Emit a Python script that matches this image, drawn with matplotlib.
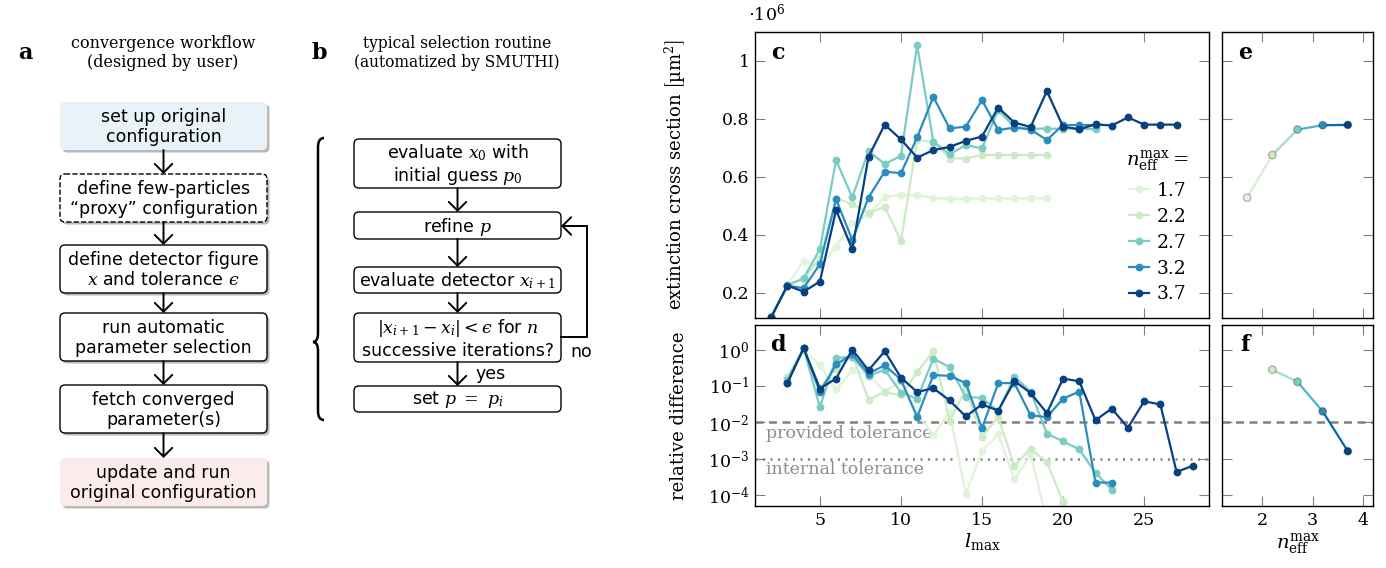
import matplotlib
matplotlib.use('Agg')
import matplotlib.pyplot as plt
import numpy as np
from matplotlib.patches import FancyBboxPatch, FancyArrowPatch, PathPatch
from matplotlib.path import Path
from matplotlib.ticker import NullLocator, FixedLocator

plt.rcParams['font.family'] = 'DejaVu Serif'
plt.rcParams['mathtext.fontset'] = 'dejavuserif'

# --- data -------------------------------------------------------------
n_eff = [1.7, 2.2, 2.7, 3.2, 3.7]
colors = ['#e0f3db', '#ccebc5', '#7bccc4', '#2b8cbe', '#084081']
seg_colors = ['#d6efd0', '#a8ddb5', '#4eb3d3', '#0868ac']

# extinction cross section (x 1e6 um^2), l_max starting at 2
ext_17 = [0.115, 0.226, 0.31, 0.285, 0.359, 0.44, 0.47, 0.529, 0.538, 0.536,
          0.526, 0.524, 0.524, 0.525, 0.525, 0.525, 0.525, 0.525]
ext_22 = [0.115, 0.226, 0.245, 0.32, 0.524, 0.506, 0.474, 0.497, 0.378, 0.727,
          0.72, 0.663, 0.663, 0.675, 0.675, 0.675, 0.675, 0.675]
ext_27 = [0.115, 0.226, 0.249, 0.35, 0.657, 0.529, 0.689, 0.644, 0.672, 1.054,
          0.721, 0.678, 0.709, 0.698, 0.83, 0.772, 0.766, 0.766, 0.766, 0.766,
          0.764]
ext_32 = [0.115, 0.224, 0.215, 0.298, 0.522, 0.382, 0.528, 0.618, 0.612, 0.736,
          0.876, 0.767, 0.773, 0.865, 0.761, 0.77, 0.763, 0.727, 0.779, 0.778,
          0.779]
ext_37 = [0.115, 0.224, 0.203, 0.238, 0.485, 0.349, 0.669, 0.78, 0.729, 0.666,
          0.692, 0.703, 0.724, 0.739, 0.839, 0.787, 0.772, 0.896, 0.773, 0.764,
          0.781, 0.777, 0.805, 0.78, 0.78, 0.78]
ext_all = [ext_17, ext_22, ext_27, ext_32, ext_37]

# relative difference, l_max starting at 3
rel_17 = [0.18, 1.0, 0.37, 0.08, 0.27, 0.2, 0.07, 0.13, 0.017, 0.0044, 0.019,
          1.1e-4, 0.0016, 0.0047, 2.7e-4, 1.3e-3, 2e-5, 7e-5]
rel_22 = [0.18, 1.0, 0.09, 0.3, 0.7, 0.042, 0.068, 0.055, 0.24, 0.9, 0.011,
          0.08, 0.004, 0.014, 6.3e-4, 1.9e-3, 8e-4, 6.5e-5]
rel_27 = [0.15, 1.1, 0.026, 0.59, 0.63, 0.19, 0.28, 0.066, 0.045, 0.56, 0.33,
          0.05, 0.047, 0.02, 0.18, 0.07, 0.0049, 0.003, 0.0018, 4.1e-4, 1.4e-4]
rel_32 = [0.121, 1.1, 0.068, 0.39, 0.74, 0.22, 0.37, 0.15, 0.014, 0.2, 0.19,
          0.12, 0.0069, 0.12, 0.12, 0.0155, 0.014, 0.045, 0.07, 2.2e-4, 2.2e-4]
rel_37 = [0.121, 1.1, 0.085, 0.16, 1.0, 0.27, 0.9, 0.17, 0.068, 0.087, 0.04,
          0.0145, 0.031, 0.021, 0.137, 0.064, 0.018, 0.16, 0.134, 0.0114,
          0.024, 0.0071, 0.038, 0.031, 4.3e-4, 6.4e-4]
rel_all = [rel_17, rel_22, rel_27, rel_32, rel_37]

# converged values per n_eff
final_ext = [0.528, 0.675, 0.763, 0.778, 0.779]
final_rel = [0.28, 0.13, 0.02, 0.0016]   # n_eff = 2.2 ... 3.7

ext_ticks = [0.2, 0.4, 0.6, 0.8, 1.0]
ext_ticklabels = ['0.2', '0.4', '0.6', '0.8', '1']
l_ticks = [5, 10, 15, 20, 25]
n_ticks = [2, 3, 4]
provided_tol = 1e-2
internal_tol = 1e-3

# flowchart texts
wf_boxes = ['set up original\nconfiguration',
            'define few-particles\n\u201cproxy\u201d configuration',
            'define detector figure\n$x$ and tolerance $\u03f5$',
            'run automatic\nparameter selection',
            'fetch converged\nparameter(s)',
            'update and run\noriginal configuration']
sel_boxes = ['evaluate $x_0$ with\ninitial guess $p_0$',
             'refine $p$',
             'evaluate detector $x_{i+1}$',
             '$|x_{i+1}-x_i| < \u03f5$ for $n$\nsuccessive iterations?',
             'set $p\\ =\\ p_i$']

# --- figure -----------------------------------------------------------
W, H = 1386, 568
fig = plt.figure(figsize=(W / 100, H / 100), dpi=100)

def px_axes(l, t, r, b):
    return fig.add_axes([l / W, 1 - b / H, (r - l) / W, (b - t) / H])

# overlay for the flowcharts, in pixel units
axf = fig.add_axes([0, 0, 1, 1])
axf.set_xlim(0, W)
axf.set_ylim(H, 0)
axf.axis('off')

sans = 'DejaVu Sans'

def box(x0, y0, w, h, text, fc='white', ec='k', ls='-', shadow=True, lw_box=1.0):
    if shadow:
        axf.add_patch(FancyBboxPatch((x0 + 2.5, y0 + 2.5), w, h,
                                     boxstyle='round,pad=0,rounding_size=5',
                                     fc='#b9b9b9', ec='none', zorder=1))
    axf.add_patch(FancyBboxPatch((x0, y0), w, h,
                                 boxstyle='round,pad=0,rounding_size=5',
                                 fc=fc, ec=ec, ls=ls, lw=lw_box, zorder=2))
    axf.text(x0 + w / 2, y0 + h / 2 + 1, text, ha='center', va='center',
             fontsize=12.5, family=sans, linespacing=1.15, zorder=3)

def arrow(x, y1, y2):
    axf.add_patch(FancyArrowPatch((x, y1), (x, y2),
                                  arrowstyle='->,head_length=0.45,head_width=0.45',
                                  mutation_scale=14, lw=1.4, color='k',
                                  shrinkA=0, shrinkB=0, zorder=3))

# a) workflow
axf.text(18, 53, 'a', fontsize=16, fontweight='bold', va='center')
axf.text(163, 53, 'convergence workflow\n(designed by user)', ha='center',
         va='center', fontsize=11.5, linespacing=1.2)
a_tops = [102, 174, 245, 313, 385, 458]
a_h = 48
a_style = [dict(fc='#e9f2f7', ec='none'), dict(ls='--'), {}, {}, {},
           dict(fc='#fcebeb', ec='none')]
for top, txt, st in zip(a_tops, wf_boxes, a_style):
    box(60, top, 207, a_h, txt, **st)
for i in range(len(a_tops) - 1):
    arrow(163.5, a_tops[i] + a_h, a_tops[i + 1])

# b) selection routine
axf.text(312, 53, 'b', fontsize=16, fontweight='bold', va='center')
axf.text(457, 53, 'typical selection routine\n(automatized by SMUTHI)',
         ha='center', va='center', fontsize=11.2, linespacing=1.2)
b_tops = [139, 212, 267, 313, 386]
b_bots = [188, 239, 293, 362, 412]
for top, bot, txt in zip(b_tops, b_bots, sel_boxes):
    box(354, top, 207, bot - top, txt, shadow=False)
for i in range(len(b_tops) - 1):
    arrow(457.5, b_bots[i], b_tops[i + 1])
axf.text(475, 374, 'yes', fontsize=12.5, family=sans, va='center')
axf.plot([561, 587, 587], [337, 337, 226], color='k', lw=1.4)
axf.add_patch(FancyArrowPatch((587, 226), (561, 226),
                              arrowstyle='->,head_length=0.45,head_width=0.45',
                              mutation_scale=14, lw=1.4, color='k',
                              shrinkA=0, shrinkB=0))
axf.text(581, 352, 'no', fontsize=12.5, family=sans, ha='center', va='center')

# curly brace
verts = [(324, 138), (318, 138), (318, 147), (318, 333), (318, 342), (313, 342),
         (318, 342), (318, 351), (318, 411), (318, 420), (324, 420)]
codes = [Path.MOVETO, Path.CURVE3, Path.CURVE3, Path.LINETO, Path.CURVE3,
         Path.CURVE3, Path.CURVE3, Path.CURVE3, Path.LINETO, Path.CURVE3,
         Path.CURVE3]
axf.add_patch(PathPatch(Path(verts, codes), fc='none', ec='k', lw=1.8))

# --- plots ------------------------------------------------------------
ax_c = px_axes(755, 32, 1209, 318)
ax_d = px_axes(755, 325, 1209, 506)
ax_e = px_axes(1222, 32, 1373, 318)
ax_f = px_axes(1222, 325, 1373, 506)

def style(ax):
    ax.tick_params(which='both', direction='in', top=True, right=True,
                   length=7, width=0.8, color='#808080', labelsize=12.5, pad=4)
    for s in ax.spines.values():
        s.set_linewidth(1.0)

for ax in (ax_c, ax_d, ax_e, ax_f):
    style(ax)

for vals, col, n in zip(ext_all, colors, n_eff):
    l = np.arange(2, 2 + len(vals))
    ax_c.plot(l, vals, '-o', color=col, lw=1.6, ms=4.6, label=f'{n}')
for vals, col in zip(rel_all, colors):
    l = np.arange(3, 3 + len(vals))
    ax_d.plot(l, vals, '-o', color=col, lw=1.6, ms=4.6)

ax_c.set_xlim(1, 29)
ax_c.set_ylim(0.112, 1.1)
ax_c.xaxis.set_major_locator(FixedLocator(l_ticks))
ax_c.set_yticks(ext_ticks)
ax_c.set_yticklabels(ext_ticklabels)
ax_c.tick_params(labelbottom=False)
ax_c.set_ylabel('extinction cross section $\\left[\\mathrm{\u00b5m}^2\\right]$',
                fontsize=13)
ax_c.yaxis.set_label_coords(-0.148, 0.5)
fig.text(748 / W, 1 - 13 / H, '$\\cdot 10^6$', fontsize=12.5, va='center')
leg = ax_c.legend(title='$n_{\\mathrm{eff}}^{\\max} =$', loc='lower right',
                  bbox_to_anchor=(0.985, 0.005), frameon=False, fontsize=13.5,
                  title_fontsize=14, handlelength=1.1, handletextpad=0.4,
                  labelspacing=0.42, borderpad=0.2)

ax_d.set_yscale('log')
ax_d.set_xlim(1, 29)
ax_d.set_ylim(5e-5, 4.75)
ax_d.set_yticks([1e-4, 1e-3, 1e-2, 1e-1, 1])
ax_d.yaxis.set_minor_locator(NullLocator())
ax_d.xaxis.set_major_locator(FixedLocator(l_ticks))
ax_d.axhline(provided_tol, color='#808080', lw=1.8, ls=(0, (3.2, 2.2)), zorder=1)
ax_d.axhline(internal_tol, color='#808080', lw=1.8, ls=(0, (0.8, 2.2)), zorder=1)
tr = ax_d.get_yaxis_transform()
ax_d.text(0.024, 5.0e-3, 'provided tolerance', transform=tr, color='#8c8c8c',
          fontsize=12.5, va='center', zorder=0)
ax_d.text(0.024, 5.1e-4, 'internal tolerance', transform=tr, color='#8c8c8c',
          fontsize=12.5, va='center', zorder=0)
ax_d.set_xlabel('$l_{\\max}$', fontsize=14, labelpad=2)
ax_d.set_ylabel('relative difference', fontsize=13)
ax_d.yaxis.set_label_coords(-0.148, 0.5)

# e / f
for i in range(len(n_eff) - 1):
    ax_e.plot(n_eff[i:i + 2], final_ext[i:i + 2], color=seg_colors[i], lw=1.6)
ax_e.scatter(n_eff, final_ext, s=30, c=colors, edgecolors='#00000040',
             linewidths=1.0, zorder=3)
for i in range(len(final_rel) - 1):
    ax_f.plot(n_eff[i + 1:i + 3], final_rel[i:i + 2], color=seg_colors[i + 1], lw=1.6)
ax_f.scatter(n_eff[1:], final_rel, s=30, c=colors[1:], edgecolors='#00000040',
             linewidths=1.0, zorder=3)

ax_e.set_xlim(1.2, 4.2)
ax_e.set_ylim(ax_c.get_ylim())
ax_e.set_yticks(ext_ticks)
ax_e.xaxis.set_major_locator(FixedLocator(n_ticks))
ax_e.tick_params(labelbottom=False, labelleft=False)

ax_f.set_yscale('log')
ax_f.set_xlim(1.2, 4.2)
ax_f.set_ylim(ax_d.get_ylim())
ax_f.set_yticks([1e-4, 1e-3, 1e-2, 1e-1, 1])
ax_f.yaxis.set_minor_locator(NullLocator())
ax_f.xaxis.set_major_locator(FixedLocator(n_ticks))
ax_f.tick_params(labelleft=False)
ax_f.axhline(provided_tol, color='#808080', lw=1.8, ls=(0, (3.2, 2.2)), zorder=1)
ax_f.set_xlabel('$n_{\\mathrm{eff}}^{\\max}$', fontsize=14, labelpad=2)

# panel letters
for ax, letter, x, y in [(ax_c, 'c', 0.051, 0.927), (ax_d, 'd', 0.051, 0.89),
                         (ax_e, 'e', 0.152, 0.927), (ax_f, 'f', 0.152, 0.89)]:
    ax.text(x, y, letter, transform=ax.transAxes, fontsize=16,
            fontweight='bold', ha='center', va='center')

fig.savefig('out.png', dpi=100)
